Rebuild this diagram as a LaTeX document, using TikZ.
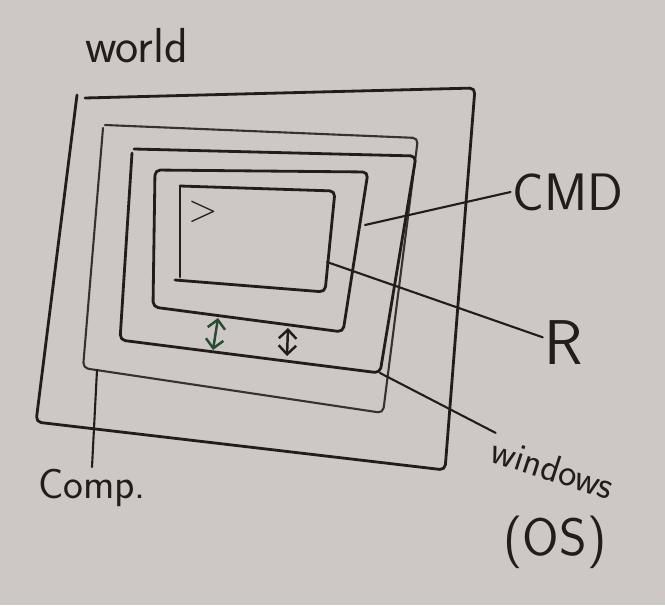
\documentclass[tikz,border=0pt]{standalone}
\usetikzlibrary{arrows.meta}
\definecolor{board}{RGB}{205,200,198}
\definecolor{ink}{RGB}{36,28,26}
\definecolor{faded}{RGB}{58,49,46}
\definecolor{marker}{RGB}{38,74,50}
\tikzset{
  frame/.style     = { draw=ink, line width=1.6pt, line join=round, line cap=round, rounded corners=3pt },
  thin frame/.style= { frame, draw=faded, line width=1.2pt },
  leader/.style    = { draw=ink, line width=1.2pt, line cap=round },
  gap/.style       = { {Straight Barb[length=5pt,width=10pt]}-{Straight Barb[length=5pt,width=10pt]}, line width=1.4pt },
  tag/.style       = { text=ink, font=\sffamily, inner sep=1pt }
}

\begin{document}
\begin{tikzpicture}[x=0.02cm, y=-0.02cm]
    \fill[board] (0,0) rectangle (665,605);
    \useasboundingbox (0,0) rectangle (665,605);

    % nested boxes, outer to inner
    \draw[frame] (85,98) -- (475,88) -- (445,470) -- (36,422) -- (77,95);
    \draw[thin frame] (105,125) -- (418,138) -- (383,413) -- (83,368) -- (103,128);
    \draw[frame] (134,149) -- (416,156) -- (380,373) -- (120,340) -- (132,153);
    \draw[frame] (155,170) -- (368,172) -- (343,332) -- (153,307) -- cycle;
    \draw[frame] (180,186) -- (335,191) -- (325,292) -- (175,280);
    \draw[frame] (180,277) -- (180,186);

    \node[tag, font=\sffamily\fontsize{22}{24}\selectfont] (prompt) at (203,212) {>};

    % points on the boxes
    \coordinate (cmdedge) at (365,225);
    \coordinate (redge)   at (327,262);
    \coordinate (osedge)  at (380,373);
    \coordinate (compedge) at (97,370);
    \coordinate (gapatop) at (218,318);
    \coordinate (gapabot) at (213,350);
    \coordinate (gapbtop) at (288,328);
    \coordinate (gapbbot) at (287,356);

    % labels
    \node[tag, font=\sffamily\fontsize{28}{30}\selectfont] (world) at (137,46) {world};
    \node[tag, font=\sffamily\fontsize{30}{32}\selectfont] (cmd) at (568,192) {CMD};
    \node[tag, font=\sffamily\fontsize{36}{38}\selectfont] (rlab) at (564,343) {R};
    \node[tag, font=\sffamily\fontsize{22}{24}\selectfont, rotate=-18] (windows) at (553,468) {windows};
    \node[tag, font=\sffamily\fontsize{30}{32}\selectfont] (os) at (555,542) {(OS)};
    \node[tag, font=\sffamily\fontsize{24}{26}\selectfont] (comp) at (92,488) {Comp.};

    % leaders
    \draw[leader] (cmdedge) -- (cmd.west);
    \draw[leader] (redge) -- (rlab.165);
    \draw[leader] (osedge) -- (windows.north west);
    \draw[leader] (compedge) -- (comp.north);

    % gaps between CMD and Windows
    \draw[gap, draw=marker] (gapatop) -- (gapabot);
    \draw[gap, draw=ink] (gapbtop) -- (gapbbot);
\end{tikzpicture}
\end{document}
